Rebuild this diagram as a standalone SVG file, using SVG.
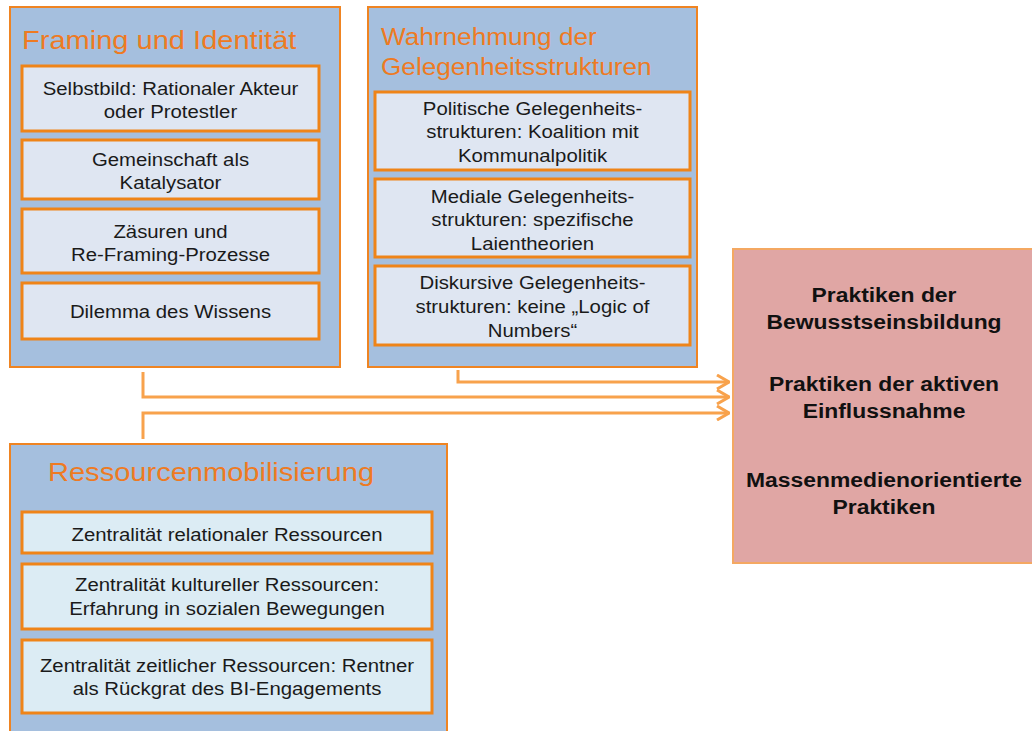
<svg xmlns="http://www.w3.org/2000/svg" width="1032" height="731" viewBox="0 0 1032 731">
<style>
.outer{fill:#a5bfde;stroke:#ef8422;stroke-width:2}
.inner{fill:#dfe6f2;stroke:#ef8418;stroke-width:3}
.inner2{fill:#dcecf4;stroke:#ef8418;stroke-width:3}
.title{font-family:"Liberation Sans",Arial,sans-serif;fill:#ee7a22}
.t{font-family:"Liberation Sans",Arial,sans-serif;font-size:18.5px;fill:#1a1a1a;text-anchor:middle}
.b{font-family:"Liberation Sans",Arial,sans-serif;font-size:20.8px;font-weight:bold;fill:#111;text-anchor:middle}
.conn{fill:none;stroke:#f8a24c;stroke-width:3}
</style>
<defs>
<marker id="chev" viewBox="0 0 14 16" refX="13" refY="8" markerWidth="14" markerHeight="16" markerUnits="userSpaceOnUse" orient="auto">
<path d="M1,1 L13,8 L1,15" fill="none" stroke="#f8a24c" stroke-width="3"/>
</marker>
</defs>
<rect width="1032" height="731" fill="#ffffff"/>

<g id="framing">
<rect class="outer" x="10" y="7" width="330" height="360"/>
<g transform="translate(22,0) scale(1.1,1)"><text class="title" x="0" y="49" font-size="26.4">Framing und Identität</text></g>
<rect class="inner" x="22" y="66" width="297" height="65"/>
<g transform="translate(170.5,0) scale(1.1,1)"><text class="t" x="0" y="95">Selbstbild: Rationaler Akteur</text><text class="t" x="0" y="118">oder Protestler</text></g>
<rect class="inner" x="22" y="140" width="297" height="59"/>
<g transform="translate(170.5,0) scale(1.1,1)"><text class="t" x="0" y="166">Gemeinschaft als</text><text class="t" x="0" y="189">Katalysator</text></g>
<rect class="inner" x="22" y="209" width="297" height="64"/>
<g transform="translate(170.5,0) scale(1.1,1)"><text class="t" x="0" y="238">Zäsuren und</text><text class="t" x="0" y="261">Re-Framing-Prozesse</text></g>
<rect class="inner" x="22" y="283" width="297" height="56"/>
<g transform="translate(170.5,0) scale(1.1,1)"><text class="t" x="0" y="318">Dilemma des Wissens</text></g>
</g>

<g id="wahrnehmung">
<rect class="outer" x="368" y="7" width="329" height="360"/>
<g transform="translate(381,0) scale(1.1,1)"><text class="title" x="0" y="45" font-size="23.8">Wahrnehmung der</text><text class="title" x="0" y="75" font-size="23.8">Gelegenheitsstrukturen</text></g>
<rect class="inner" x="375" y="92" width="315" height="78"/>
<g transform="translate(532.5,0) scale(1.1,1)"><text class="t" x="0" y="115">Politische Gelegenheits-</text><text class="t" x="0" y="138">strukturen: Koalition mit</text><text class="t" x="0" y="162">Kommunalpolitik</text></g>
<rect class="inner" x="375" y="179" width="315" height="78"/>
<g transform="translate(532.5,0) scale(1.1,1)"><text class="t" x="0" y="203">Mediale Gelegenheits-</text><text class="t" x="0" y="226">strukturen: spezifische</text><text class="t" x="0" y="250">Laientheorien</text></g>
<rect class="inner" x="375" y="266" width="315" height="79"/>
<g transform="translate(532.5,0) scale(1.1,1)"><text class="t" x="0" y="289">Diskursive Gelegenheits-</text><text class="t" x="0" y="313">strukturen: keine „Logic of</text><text class="t" x="0" y="337">Numbers“</text></g>
</g>

<g id="ressourcen">
<rect class="outer" x="10" y="444" width="437" height="300"/>
<g transform="translate(48,0) scale(1.1,1)"><text class="title" x="0" y="481" font-size="26.4">Ressourcenmobilisierung</text></g>
<rect class="inner2" x="22" y="512" width="410" height="41"/>
<g transform="translate(227,0) scale(1.1,1)"><text class="t" x="0" y="541">Zentralität relationaler Ressourcen</text></g>
<rect class="inner2" x="22" y="564" width="410" height="65"/>
<g transform="translate(227,0) scale(1.1,1)"><text class="t" x="0" y="591">Zentralität kultureller Ressourcen:</text><text class="t" x="0" y="615">Erfahrung in sozialen Bewegungen</text></g>
<rect class="inner2" x="22" y="640" width="410" height="73"/>
<g transform="translate(227,0) scale(1.1,1)"><text class="t" x="0" y="672">Zentralität zeitlicher Ressourcen: Rentner</text><text class="t" x="0" y="695">als Rückgrat des BI-Engagements</text></g>
</g>

<g id="praktiken">
<rect x="733" y="249" width="310" height="314" fill="#e0a6a4" stroke="#f4a862" stroke-width="2"/>
<g transform="translate(884,0) scale(1.1,1)">
<text class="b" x="0" y="302">Praktiken der</text><text class="b" x="0" y="329">Bewusstseinsbildung</text>
<text class="b" x="0" y="391">Praktiken der aktiven</text><text class="b" x="0" y="418">Einflussnahme</text>
<text class="b" x="0" y="487">Massenmedienorientierte</text><text class="b" x="0" y="514">Praktiken</text>
</g>
</g>

<g id="connectors">
<path class="conn" d="M458,370 V382 H729" marker-end="url(#chev)"/>
<path class="conn" d="M143,372 V397 H729" marker-end="url(#chev)"/>
<path class="conn" d="M143,439 V413 H729" marker-end="url(#chev)"/>
</g>
</svg>
